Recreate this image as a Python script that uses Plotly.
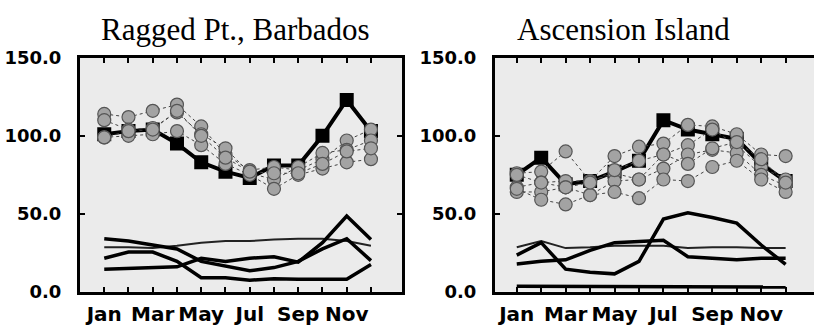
import plotly.graph_objects as go

W, H = 814, 328

months = list(range(1, 13))
month_text = ["Jan", "", "Mar", "", "May", "", "Jul", "", "Sep", "", "Nov", ""]
y_ticks = [0, 50, 100, 150]
y_text = ["0.0", "50.0", "100.0", "150.0"]

# --- Ragged Pt., Barbados ---
barb_main = [101, 103, 104, 95, 83, 77, 73, 81, 81, 100, 123, 103]
barb_years = [
    [114, 112, 116, 120, 106, 88, 78, 80, 78, 85, 97, 104],
    [110, 104, 105, 115, 101, 92, 76, 72, 80, 89, 91, 97],
    [99, 100, 101, 103, 94, 82, 75, 66, 75, 79, 83, 85],
    [99, 103, 104, 116, 100, 86, 77, 76, 76, 82, 90, 92],
]
barb_low_thin = [28.5, 28.5, 28, 29.5, 31.5, 32.5, 32.5, 33.5, 34, 34, 32.5, 29.5]
barb_low = [
    [34, 32.5, 30, 27.5, 19.5, 16.5, 13.5, 15.5, 19.5, 27.5, 34, 20],
    [21.5, 25.5, 25.5, 19.5, 9, 9, 7.4, 8.4, 8, 8, 8, 17.5],
    [14.5, 15, 16, 16, 21.5, 19.5, 21.5, 22.5, 19, 31.5, 48.6, 33.5],
]

# --- Ascension Island ---
asc_main = [75, 86, 69, 71, 77, 84, 110, 104, 101, 98, 82, 71]
asc_years = [
    [76, 77, 90, 71, 87, 93, 95, 107, 106, 101, 88, 87],
    [67, 70, 71, 71, 76, 72, 88, 94, 104, 94, 80, 72],
    [64, 64, 67, 62, 71, 72, 79, 88, 91, 89, 75, 68],
    [66, 59, 56, 62, 64, 60, 72, 71, 80, 84, 72, 64],
    [75, 70, 67, 70, 78, 84, 88, 82, 92, 96, 85, 70],
]
asc_low_thin = [28.5, 32.5, 28, 28.5, 29.5, 29.5, 29.5, 28, 28.5, 28.5, 28, 28]
asc_low = [
    [23.5, 31.5, 14.5, 12.5, 11.5, 19.5, 46.6, 50.6, 47.6, 44, 30, 17.5],
    [17.8, 19.5, 20.5, 26.5, 31.5, 32.5, 33, 22.5, 21.5, 20.5, 21.5, 21.5],
    [3.5, 3.5, 3.5, 3.5, 3.5, 3.5, 3.5, 3.5, 3.5, 3.5, 3.5, 3.0],
]

CIRCLE_FILL = "#a3a3a3"
CIRCLE_EDGE = "#555555"


def add_panel(fig, xa, ya, main, years, low_thin, low):
    # seasonal lines near the bottom
    fig.add_trace(go.Scatter(x=months, y=low_thin, mode="lines",
                             line=dict(color="#222222", width=2),
                             xaxis=xa, yaxis=ya, showlegend=False))
    for series in low:
        fig.add_trace(go.Scatter(x=months, y=series, mode="lines",
                                 line=dict(color="black", width=3.5),
                                 xaxis=xa, yaxis=ya, showlegend=False))
    # mean curve with black squares
    fig.add_trace(go.Scatter(x=months, y=main, mode="lines+markers",
                             line=dict(color="black", width=4),
                             marker=dict(symbol="square", size=14, color="black"),
                             xaxis=xa, yaxis=ya, showlegend=False))
    # individual years, grey circles
    for series in years:
        fig.add_trace(go.Scatter(x=months, y=series, mode="lines+markers",
                                 line=dict(color="#444444", width=1, dash="dot"),
                                 marker=dict(symbol="circle", size=13, color=CIRCLE_FILL,
                                             line=dict(color=CIRCLE_EDGE, width=1.2)),
                                 xaxis=xa, yaxis=ya, showlegend=False))


fig = go.Figure()
add_panel(fig, "x", "y", barb_main, barb_years, barb_low_thin, barb_low)
add_panel(fig, "x2", "y2", asc_main, asc_years, asc_low_thin, asc_low)

tick_font_x = dict(family="DejaVu Sans", size=20, color="black", weight="bold")
tick_font_y = dict(family="DejaVu Sans", size=18, color="black", weight="bold")

xcommon = dict(tickvals=months, ticktext=month_text, ticks="inside", ticklen=5,
               tickwidth=1.5, tickcolor="black", showline=True, linewidth=3,
               linecolor="black", mirror="ticks", showgrid=False, zeroline=False,
               tickfont=tick_font_x, ticklabelstandoff=2)
ycommon = dict(range=[0, 150], tickvals=y_ticks, ticktext=y_text, ticks="inside",
               ticklen=5, tickwidth=1.5, tickcolor="black", showline=True,
               linewidth=3, linecolor="black", showgrid=False, zeroline=False,
               tickfont=tick_font_y, ticklabelstandoff=12)

y_dom = [(H - 300) / H, (H - 50) / H]

fig.update_layout(
    width=W, height=H,
    margin=dict(l=0, r=0, t=0, b=0),
    paper_bgcolor="white",
    plot_bgcolor="#ebebeb",
    xaxis=dict(domain=[80 / W, 402 / W], range=[0, 13.28], anchor="y", **xcommon),
    yaxis=dict(domain=y_dom, anchor="x", mirror="ticks", **ycommon),
    xaxis2=dict(domain=[495 / W, 1.0], range=[0.11, 13.16], anchor="y2", **xcommon),
    yaxis2=dict(domain=y_dom, anchor="x2", mirror=False, **ycommon),
    annotations=[
        dict(text="Ragged Pt., Barbados", x=235.5 / W, y=(H - 20) / H,
             xref="paper", yref="paper", xanchor="center", yanchor="middle",
             showarrow=False,
             font=dict(family="Liberation Serif", size=31, color="black")),
        dict(text="Ascension Island", x=623 / W, y=(H - 20) / H,
             xref="paper", yref="paper", xanchor="center", yanchor="middle",
             showarrow=False,
             font=dict(family="Liberation Serif", size=31, color="black")),
    ],
)

fig.write_html("out.html")
